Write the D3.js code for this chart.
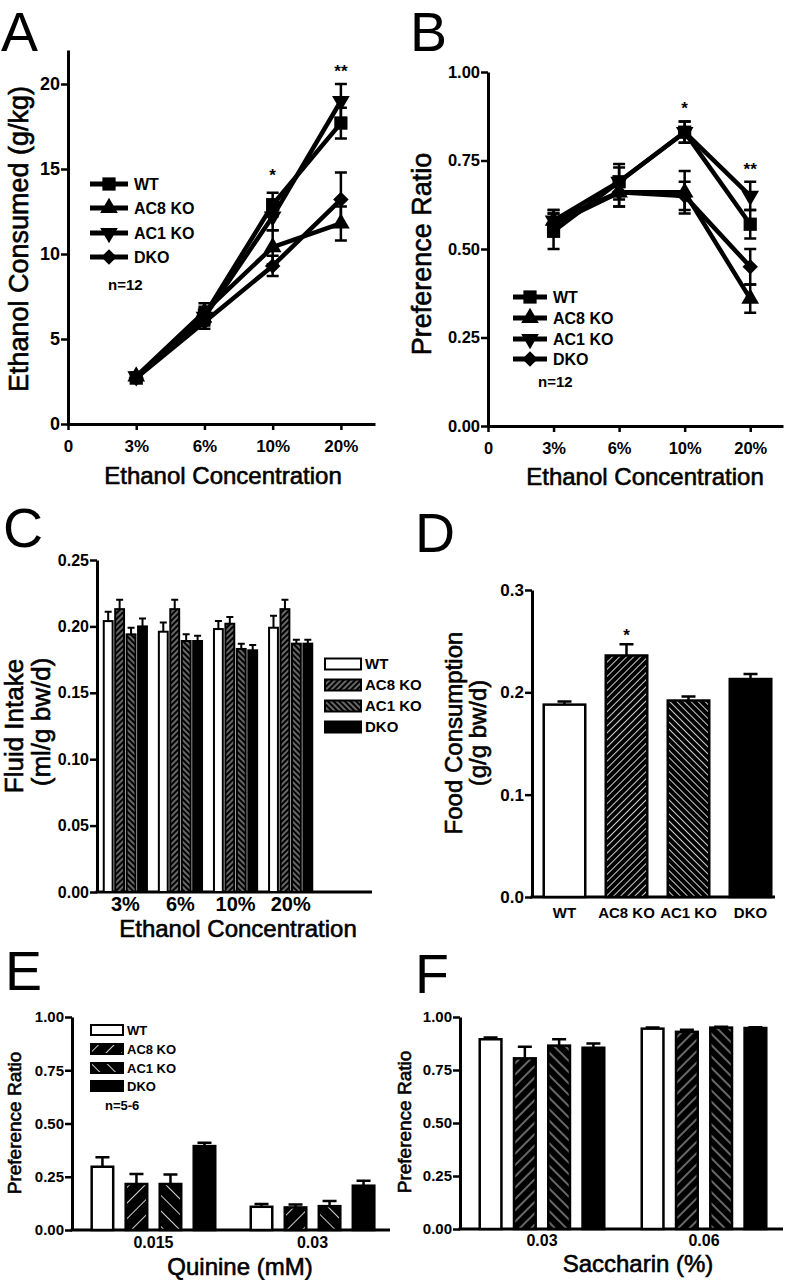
<!DOCTYPE html>
<html>
<head>
<meta charset="utf-8">
<script src="https://cdn.jsdelivr.net/npm/d3@7"></script>
<style>
body { margin: 0; background: #fff; }
svg { display: block; }
</style>
</head>
<body>
<div id="chart"></div>
<script>
const FONT = '"Liberation Sans", Arial, Helvetica, sans-serif';

const genotypes = ["WT", "AC8 KO", "AC1 KO", "DKO"];
const concLabels = ["3%", "6%", "10%", "20%"];

// A: ethanol consumed (g/kg), mean and SEM
const consWT = [2.7, 6.4, 12.9, 17.7];
const consWTErr = [0.2, 0.5, 0.7, 0.9];
const consAC8 = [2.8, 6.6, 10.4, 11.8];
const consAC8Err = [0.2, 0.5, 1.0, 1.0];
const consAC1 = [2.8, 6.3, 12.2, 19.0];
const consAC1Err = [0.2, 0.5, 0.8, 1.0];
const consDKO = [2.7, 6.0, 9.3, 13.2];
const consDKOErr = [0.2, 0.4, 0.6, 1.6];

// B: preference ratio
const prefWT = [0.55, 0.69, 0.83, 0.57];
const prefWTErr = [0.05, 0.05, 0.03, 0.04];
const prefAC8 = [0.58, 0.66, 0.66, 0.36];
const prefAC8Err = [0.03, 0.04, 0.06, 0.04];
const prefAC1 = [0.58, 0.69, 0.83, 0.65];
const prefAC1Err = [0.03, 0.04, 0.03, 0.04];
const prefDKO = [0.57, 0.66, 0.65, 0.45];
const prefDKOErr = [0.03, 0.04, 0.04, 0.05];

// C: fluid intake per concentration, one array per genotype
const fluidWT = [0.204, 0.196, 0.198, 0.199];
const fluidWTErr = [0.007, 0.007, 0.006, 0.009];
const fluidAC8 = [0.213, 0.213, 0.202, 0.213];
const fluidAC8Err = [0.007, 0.007, 0.005, 0.007];
const fluidAC1 = [0.194, 0.189, 0.183, 0.187];
const fluidAC1Err = [0.005, 0.005, 0.004, 0.003];
const fluidDKO = [0.200, 0.189, 0.182, 0.187];
const fluidDKOErr = [0.006, 0.004, 0.004, 0.003];

// D: food consumption per genotype
const food = [0.188, 0.236, 0.192, 0.213];
const foodErr = [0.003, 0.011, 0.004, 0.005];

// E: quinine preference
const quinineLabels = ["0.015", "0.03"];
const quinine015 = [0.297, 0.216, 0.216, 0.394];
const quinine015Err = [0.045, 0.047, 0.045, 0.016];
const quinine03 = [0.109, 0.106, 0.112, 0.208];
const quinine03Err = [0.013, 0.014, 0.024, 0.023];

// F: saccharin preference
const saccharinLabels = ["0.03", "0.06"];
const saccharin03 = [0.895, 0.805, 0.865, 0.855];
const saccharin03Err = [0.008, 0.055, 0.03, 0.02];
const saccharin06 = [0.945, 0.93, 0.95, 0.948];
const saccharin06Err = [0.006, 0.01, 0.004, 0.004];

const svg = d3.select("#chart").append("svg")
    .attr("width", 785)
    .attr("height", 1280)
    .attr("font-family", FONT);

const defs = svg.append("defs");

function makePattern(id, angle, gap) {
  const p = defs.append("pattern")
      .attr("id", id)
      .attr("patternUnits", "userSpaceOnUse")
      .attr("width", gap)
      .attr("height", gap)
      .attr("patternTransform", `rotate(${angle})`);
  p.append("rect").attr("width", gap).attr("height", gap).attr("fill", "#000");
  p.append("line")
      .attr("x1", gap / 2).attr("x2", gap / 2)
      .attr("y1", 0).attr("y2", gap)
      .attr("stroke", "#cfcfcf")
      .attr("stroke-width", 1);
}
[["C", 4], ["D", 5], ["E", 11], ["F", 8]].forEach(([k, gap]) => {
  makePattern("h8" + k, 45, gap);
  makePattern("h1" + k, -45, gap);
});
const fillFor = (name, k) =>
  name === "WT" ? "#fff" : name === "AC8 KO" ? `url(#h8${k})` : name === "AC1 KO" ? `url(#h1${k})` : "#000";

function styleAxis(g, size) {
  g.attr("font-family", FONT);
  g.select(".domain").attr("stroke-width", 3).attr("stroke", "#000");
  g.selectAll(".tick line").attr("stroke-width", 2.5).attr("stroke", "#000");
  g.selectAll(".tick text")
      .attr("font-size", size)
      .attr("font-weight", "bold")
      .attr("fill", "#000");
}

// titles in the figure look heavier than plain regular weight
function vtext(x, y, str, size) {
  svg.append("text")
      .attr("transform", `translate(${x},${y}) rotate(-90)`)
      .attr("text-anchor", "middle")
      .attr("font-size", size)
      .attr("stroke", "#000")
      .attr("stroke-width", 0.6)
      .text(str);
}

function htext(x, y, str, size, weight, anchor) {
  const t = svg.append("text")
      .attr("x", x).attr("y", y)
      .attr("text-anchor", anchor || "middle")
      .attr("font-size", size)
      .attr("font-weight", weight || "normal")
      .text(str);
  if (!weight) t.attr("stroke", "#000").attr("stroke-width", 0.6);
}

function panelLetter(x, y, str) {
  svg.append("text")
      .attr("x", x).attr("y", y)
      .attr("font-size", 55.5)
      .text(str);
}

const markerPath = {
  "WT": d3.symbol(d3.symbolSquare, 175)(),
  "AC8 KO": d3.symbol(d3.symbolTriangle, 135)(),
  "AC1 KO": d3.symbol(d3.symbolTriangle, 135)(),
  "DKO": d3.symbol(d3.symbolSquare, 120)()
};
const markerRot = {"WT": 0, "AC8 KO": 0, "AC1 KO": 180, "DKO": 45};

function drawMarker(g, name, x, y) {
  g.append("path")
      .attr("d", markerPath[name])
      .attr("transform", `translate(${x},${y}) rotate(${markerRot[name]})`)
      .attr("fill", "#000");
}

// ---------- line panels (A, B) ----------
function linePanel(cfg) {
  const x = d3.scaleLinear().domain([0, 4.5]).range(cfg.xRange);
  const y = d3.scaleLinear().domain(cfg.yDomain).range(cfg.yRange);

  svg.append("g")
      .attr("transform", `translate(0,${cfg.yRange[0]})`)
      .call(d3.axisBottom(x).tickValues([0, 1, 2, 3, 4])
          .tickFormat(i => ["0", ...concLabels][i])
          .tickSize(6).tickSizeOuter(0).tickPadding(cfg.xPad))
      .call(g => styleAxis(g, cfg.xFont));

  svg.append("g")
      .attr("transform", `translate(${cfg.xRange[0]},0)`)
      .call(d3.axisLeft(y).tickValues(cfg.yTicks).tickFormat(cfg.yFmt)
          .tickSize(7).tickSizeOuter(0).tickPadding(1))
      .call(g => styleAxis(g, cfg.yFont));

  const line = d3.line().x((d, i) => x(i + 1)).y(d => y(d));
  const order = [3, 1, 2, 0];
  order.forEach(k => {
    const s = cfg.series[k];
    const g = svg.append("g");
    g.append("path")
        .datum(s.values)
        .attr("fill", "none")
        .attr("stroke", "#000")
        .attr("stroke-width", 4.5)
        .attr("stroke-linejoin", "round")
        .attr("d", line);
    s.values.forEach((v, i) => {
      const cx = x(i + 1), top = y(v + s.err[i]), bot = y(v - s.err[i]);
      g.append("path")
          .attr("d", `M${cx},${top}V${bot}M${cx - 6},${top}H${cx + 6}M${cx - 6},${bot}H${cx + 6}`)
          .attr("stroke", "#000").attr("stroke-width", 2.5).attr("fill", "none");
      drawMarker(g, s.name, cx, y(v));
    });
  });

  // legend
  const lg = cfg.legend;
  cfg.series.forEach((s, i) => {
    const ly = lg.rows[i];
    svg.append("line")
        .attr("x1", lg.x1).attr("x2", lg.x2).attr("y1", ly).attr("y2", ly)
        .attr("stroke", "#000").attr("stroke-width", 5);
    drawMarker(svg, s.name, (lg.x1 + lg.x2) / 2, ly);
    htext(lg.tx, ly + 6, s.name, lg.font, "bold", "start");
  });
  htext(lg.nx, lg.ny, "n=12", lg.font - 1, "bold", "start");

  cfg.stars.forEach(st => htext(x(st.i + 1), y(st.v), st.t, 17, "bold"));
}

linePanel({
  xRange: [68, 375], yRange: [424, 50], yDomain: [0, 22],
  yTicks: [0, 5, 10, 15, 20], yFmt: d3.format("d"), xPad: 10, xFont: 17, yFont: 18,
  series: [
    {name: "WT", values: consWT, err: consWTErr},
    {name: "AC8 KO", values: consAC8, err: consAC8Err},
    {name: "AC1 KO", values: consAC1, err: consAC1Err},
    {name: "DKO", values: consDKO, err: consDKOErr}
  ],
  legend: {x1: 90, x2: 128, tx: 134, rows: [184, 208, 233, 257], font: 16, nx: 108, ny: 290},
  stars: [{i: 2, v: 14.3, t: "*"}, {i: 3, v: 20.4, t: "**"}]
});
panelLetter(1, 50.5, "A");
vtext(28, 239, "Ethanol Consumed (g/kg)", 27);
htext(223, 484, "Ethanol Concentration", 24);

linePanel({
  xRange: [488, 783], yRange: [426, 72], yDomain: [0, 1],
  yTicks: [0, 0.25, 0.5, 0.75, 1], yFmt: d3.format(".2f"), xPad: 10, xFont: 16.5, yFont: 16.5,
  series: [
    {name: "WT", values: prefWT, err: prefWTErr},
    {name: "AC8 KO", values: prefAC8, err: prefAC8Err},
    {name: "AC1 KO", values: prefAC1, err: prefAC1Err},
    {name: "DKO", values: prefDKO, err: prefDKOErr}
  ],
  legend: {x1: 513, x2: 547, tx: 553, rows: [297, 318, 339, 359], font: 16, nx: 538, ny: 387},
  stars: [{i: 2, v: 0.88, t: "*"}, {i: 3, v: 0.71, t: "**"}]
});
panelLetter(410, 50.5, "B");
vtext(431, 254, "Preference Ratio", 27);
htext(645, 485, "Ethanol Concentration", 24);

// ---------- bar panels ----------
function barAxes(cfg) {
  const y = d3.scaleLinear().domain(cfg.yDomain).range(cfg.yRange);
  svg.append("g")
      .attr("transform", `translate(${cfg.axisX},0)`)
      .call(d3.axisLeft(y).tickValues(cfg.yTicks).tickFormat(cfg.yFmt)
          .tickSize(7).tickSizeOuter(0).tickPadding(1))
      .call(g => styleAxis(g, cfg.yFont));
  svg.append("line")
      .attr("x1", cfg.axisX - 1.5).attr("x2", cfg.axisEnd)
      .attr("y1", cfg.yRange[0]).attr("y2", cfg.yRange[0])
      .attr("stroke", "#000").attr("stroke-width", 3);
  const xg = svg.append("g")
      .attr("transform", `translate(0,${cfg.yRange[0]})`)
      .call(d3.axisBottom(cfg.x).tickSize(0).tickPadding(cfg.xPad))
      .call(g => styleAxis(g, cfg.xFont));
  xg.select(".domain").remove();
  return y;
}

function drawBars(rows, x, inner, y, k, capW, sw) {
  // rows: [{group, name, v, e}]
  const g = svg.append("g");
  rows.forEach(r => {
    const bx = x(r.group) + (inner ? inner(r.name) : 0);
    const bw = inner ? inner.bandwidth() : x.bandwidth();
    const cx = bx + bw / 2, top = y(r.v + r.e);
    g.append("path")
        .attr("d", `M${cx},${y(r.v)}V${top}M${cx - capW / 2},${top}H${cx + capW / 2}`)
        .attr("stroke", "#000").attr("stroke-width", sw).attr("fill", "none");
    g.append("rect")
        .attr("x", bx + sw / 2).attr("y", y(r.v))
        .attr("width", bw - sw).attr("height", y(0) - y(r.v))
        .attr("fill", fillFor(r.name, k))
        .attr("stroke", "#000").attr("stroke-width", sw);
  });
}

function barLegend(x, rows, w, h, font, k, tx) {
  genotypes.forEach((name, i) => {
    svg.append("rect")
        .attr("x", x).attr("y", rows[i] - h / 2)
        .attr("width", w).attr("height", h)
        .attr("fill", fillFor(name, k))
        .attr("stroke", "#000").attr("stroke-width", 2);
    htext(tx, rows[i] + font * 0.36, name, font, "bold", "start");
  });
}

// C
const xC = d3.scaleBand().domain(concLabels).range([100, 316]).paddingInner(0.18).paddingOuter(0.05);
const innerC = d3.scaleBand().domain(genotypes).range([0, xC.bandwidth()]).paddingInner(0.05);
const yC = barAxes({
  x: xC, yDomain: [0, 0.25], yRange: [892, 560], yTicks: [0, 0.05, 0.1, 0.15, 0.2, 0.25],
  yFmt: d3.format(".2f"), yFont: 16, xFont: 20, xPad: 5, axisX: 97, axisEnd: 372
});
const fluidSeries = [[fluidWT, fluidWTErr], [fluidAC8, fluidAC8Err], [fluidAC1, fluidAC1Err], [fluidDKO, fluidDKOErr]];
drawBars(concLabels.flatMap((c, ci) => genotypes.map((name, gi) => ({
  group: c, name, v: fluidSeries[gi][0][ci], e: fluidSeries[gi][1][ci]
}))), xC, innerC, yC, "C", 7, 2);
barLegend(325, [664, 685, 706, 727], 36, 11, 15, "C", 365);
panelLetter(3, 547, "C");
vtext(23, 726, "Fluid Intake", 26);
vtext(50, 722, "(ml/g bw/d)", 26);
htext(238, 937, "Ethanol Concentration", 24);

// D
const xD = d3.scaleBand().domain(genotypes).range([532, 783]).paddingInner(0.29).paddingOuter(0.169);
const yD = barAxes({
  x: xD, yDomain: [0, 0.3], yRange: [897, 590], yTicks: [0, 0.1, 0.2, 0.3],
  yFmt: d3.format(".1f"), yFont: 17, xFont: 15, xPad: 10, axisX: 532, axisEnd: 775
});
drawBars(genotypes.map((name, i) => ({group: name, name, v: food[i], e: foodErr[i]})),
    xD, null, yD, "D", 14, 2.5);
htext(xD("AC8 KO") + xD.bandwidth() / 2, 641, "*", 17, "bold");
panelLetter(415, 552, "D");
vtext(462, 733, "Food Consumption", 24);
vtext(486, 733, "(g/g bw/d)", 24);

// E
const xE = d3.scaleBand().domain(quinineLabels).range([75, 391]).paddingInner(0.2075).paddingOuter(0.097);
const innerE = d3.scaleBand().domain(genotypes).range([0, xE.bandwidth()]).paddingInner(0.294);
const yE = barAxes({
  x: xE, yDomain: [0, 1], yRange: [1230, 1017], yTicks: [0, 0.25, 0.5, 0.75, 1],
  yFmt: d3.format(".2f"), yFont: 15, xFont: 16, xPad: 7, axisX: 72, axisEnd: 390
});
const quinineSeries = [[quinine015, quinine015Err], [quinine03, quinine03Err]];
drawBars(quinineLabels.flatMap((c, ci) => genotypes.map((name, gi) => ({
  group: c, name, v: quinineSeries[ci][0][gi], e: quinineSeries[ci][1][gi]
}))), xE, innerE, yE, "E", 14, 2.5);
barLegend(91, [1030, 1049, 1068, 1086], 32, 10, 13, "E", 127);
htext(105, 1110, "n=5-6", 13, "bold", "start");
panelLetter(5, 990, "E");
vtext(21, 1123, "Preference Ratio", 19);
htext(240, 1275, "Quinine (mM)", 24);

// F
const xF = d3.scaleBand().domain(saccharinLabels).range([463, 783]).paddingInner(0.216).paddingOuter(0.0955);
const innerF = d3.scaleBand().domain(genotypes).range([0, xF.bandwidth()]).paddingInner(0.294);
const yF = barAxes({
  x: xF, yDomain: [0, 1], yRange: [1229, 1017], yTicks: [0, 0.25, 0.5, 0.75, 1],
  yFmt: d3.format(".2f"), yFont: 15, xFont: 16, xPad: 6, axisX: 460, axisEnd: 783
});
const saccharinSeries = [[saccharin03, saccharin03Err], [saccharin06, saccharin06Err]];
drawBars(saccharinLabels.flatMap((c, ci) => genotypes.map((name, gi) => ({
  group: c, name, v: saccharinSeries[ci][0][gi], e: saccharinSeries[ci][1][gi]
}))), xF, innerF, yF, "F", 14, 2.5);
panelLetter(415, 993, "F");
vtext(411, 1122, "Preference Ratio", 19);
htext(638, 1272, "Saccharin (%)", 24);
</script>
</body>
</html>
